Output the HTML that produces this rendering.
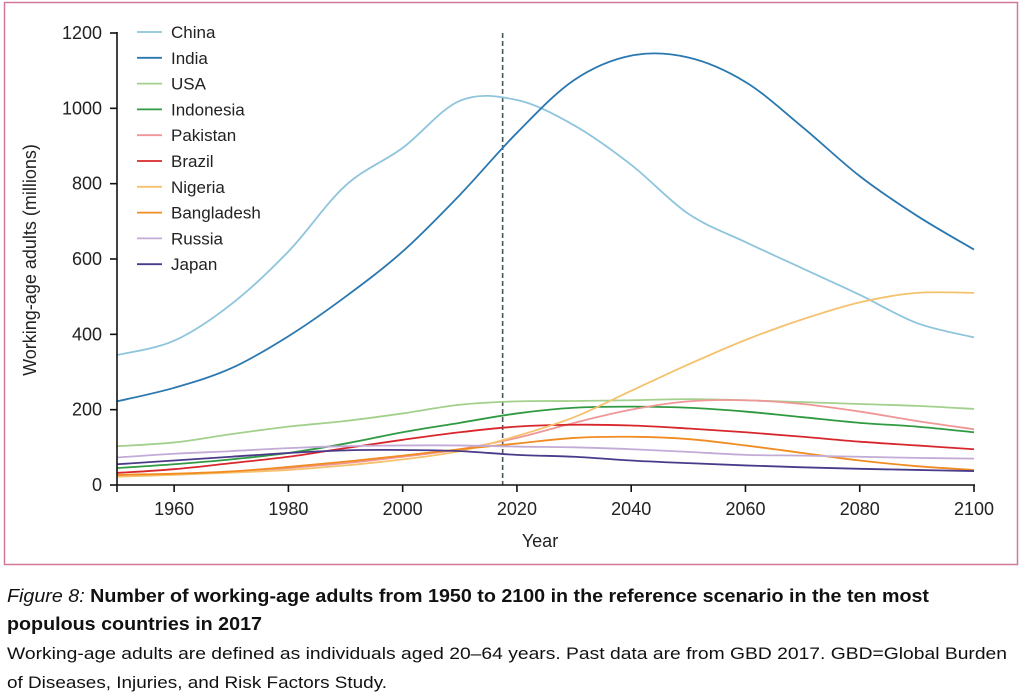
<!DOCTYPE html>
<html><head><meta charset="utf-8"><style>
html,body{margin:0;padding:0;background:#fff;}
svg{display:block;font-family:"Liberation Sans",sans-serif;}
</style></head><body>
<svg id="chart" width="1024" height="698" viewBox="0 0 1024 698">
<rect x="4.5" y="2.5" width="1013" height="562" fill="none" stroke="#d2789a" stroke-width="1.5"/>
<g id="plot"></g>
<g id="axes"></g>
<g id="legend"></g>
<text x="36" y="260" transform="rotate(-90 36 260)" text-anchor="middle" font-size="18" fill="#222">Working-age adults (millions)</text>
<text x="540" y="547" text-anchor="middle" font-size="18" fill="#222">Year</text>
<text x="7" y="602" font-size="18" font-weight="bold" fill="#111" textLength="922" lengthAdjust="spacingAndGlyphs"><tspan font-style="italic" font-weight="normal">Figure 8:</tspan> Number of working-age adults from 1950 to 2100 in the reference scenario in the ten most</text>
<text x="7" y="630" font-size="18" font-weight="bold" fill="#111" textLength="255" lengthAdjust="spacingAndGlyphs">populous countries in 2017</text>
<text x="7" y="659" font-size="17" fill="#111" textLength="1000" lengthAdjust="spacingAndGlyphs">Working-age adults are defined as individuals aged 20–64 years. Past data are from GBD 2017. GBD=Global Burden</text>
<text x="7" y="688" font-size="17" fill="#111" textLength="380" lengthAdjust="spacingAndGlyphs">of Diseases, Injuries, and Risk Factors Study.</text>
</svg>
<script>
const years=[1950,1960,1970,1980,1990,2000,2010,2020,2030,2040,2050,2060,2070,2080,2090,2100];
const countries=["China","India","USA","Indonesia","Pakistan","Brazil","Nigeria","Bangladesh","Russia","Japan"];
const colors=["#8ec5dc","#2a78b0","#a3d08c","#2f9a42","#f09696","#d8272c","#f5c26e","#f08c22","#c2abd6","#4a3b8a"];
const china=[345,383,480,620,795,895,1020,1022,955,850,720,645,575,505,430,392];
const india=[222,258,310,395,500,620,770,935,1075,1140,1135,1070,950,820,715,625];
const usa=[103,113,135,155,170,190,213,222,223,225,228,225,220,215,210,202];
const indonesia=[45,55,68,85,110,140,165,190,205,208,205,195,180,165,155,140];
const pakistan=[25,28,35,45,58,75,95,125,165,200,222,225,215,195,170,148];
const brazil=[32,42,58,75,98,120,140,155,160,158,150,140,128,115,105,95];
const nigeria=[22,27,33,40,52,68,90,130,180,250,320,385,440,485,510,510];
const bangladesh=[27,30,36,48,62,78,95,110,125,128,122,105,85,65,50,40];
const russia=[73,83,90,98,103,105,105,102,100,95,88,80,78,75,72,70];
const japan=[55,65,75,85,92,93,90,80,75,65,58,52,47,43,40,37];
const series=[china,india,usa,indonesia,pakistan,brazil,nigeria,bangladesh,russia,japan];
const xTicks=[1960,1980,2000,2020,2040,2060,2080,2100];
const yTicks=[0,200,400,600,800,1000,1200];
const refYear=2017.5;
const NS="http://www.w3.org/2000/svg";
const X=y=>117+(y-1950)*(857/150);
const Y=v=>485-v*(452/1200);
function el(t,a,p){const e=document.createElementNS(NS,t);for(const k in a)e.setAttribute(k,a[k]);p.appendChild(e);return e;}
function smooth(pts){let d=`M${pts[0][0]},${pts[0][1]}`;for(let i=0;i<pts.length-1;i++){const p0=pts[Math.max(i-1,0)],p1=pts[i],p2=pts[i+1],p3=pts[Math.min(i+2,pts.length-1)];const c1=[p1[0]+(p2[0]-p0[0])/6,p1[1]+(p2[1]-p0[1])/6],c2=[p2[0]-(p3[0]-p1[0])/6,p2[1]-(p3[1]-p1[1])/6];d+=`C${c1[0]},${c1[1]} ${c2[0]},${c2[1]} ${p2[0]},${p2[1]}`;}return d;}
const plot=document.getElementById('plot'),axes=document.getElementById('axes'),legend=document.getElementById('legend');
const ref=el('line',{x1:X(refYear),x2:X(refYear),y1:33,y2:485,stroke:'#4a5a5a','stroke-width':1.6,'stroke-dasharray':'5,3'},plot);


series.forEach((s,i)=>{const p=el('path',{d:smooth(s.map((v,j)=>[X(years[j]),Y(v)])),fill:'none',stroke:colors[i],'stroke-width':1.8},plot);

});
const xa=el('line',{x1:117,x2:975,y1:485,y2:485,stroke:'#111','stroke-width':1.6},axes);


const ya=el('line',{x1:117,x2:117,y1:32,y2:492,stroke:'#111','stroke-width':1.6},axes);


xTicks.forEach(t=>{el('line',{x1:X(t),x2:X(t),y1:485,y2:492,stroke:'#111','stroke-width':1.6},axes);
const tx=el('text',{x:X(t),y:515,'text-anchor':'middle','font-size':18,fill:'#222'},axes);tx.textContent=t;

});
yTicks.forEach(t=>{el('line',{x1:110,x2:117,y1:Y(t),y2:Y(t),stroke:'#111','stroke-width':1.6},axes);
const tx=el('text',{x:102,y:Y(t)+6,'text-anchor':'end','font-size':18,fill:'#222'},axes);tx.textContent=t;

});
countries.forEach((c,i)=>{const y=32+i*25.8;const g=el('g',{},legend);


el('line',{x1:137,x2:162,y1:y,y2:y,stroke:colors[i],'stroke-width':1.8},g);
const t=el('text',{x:171,y:y+6,'font-size':17,fill:'#222'},g);t.textContent=c;});
</script>
</body></html>
